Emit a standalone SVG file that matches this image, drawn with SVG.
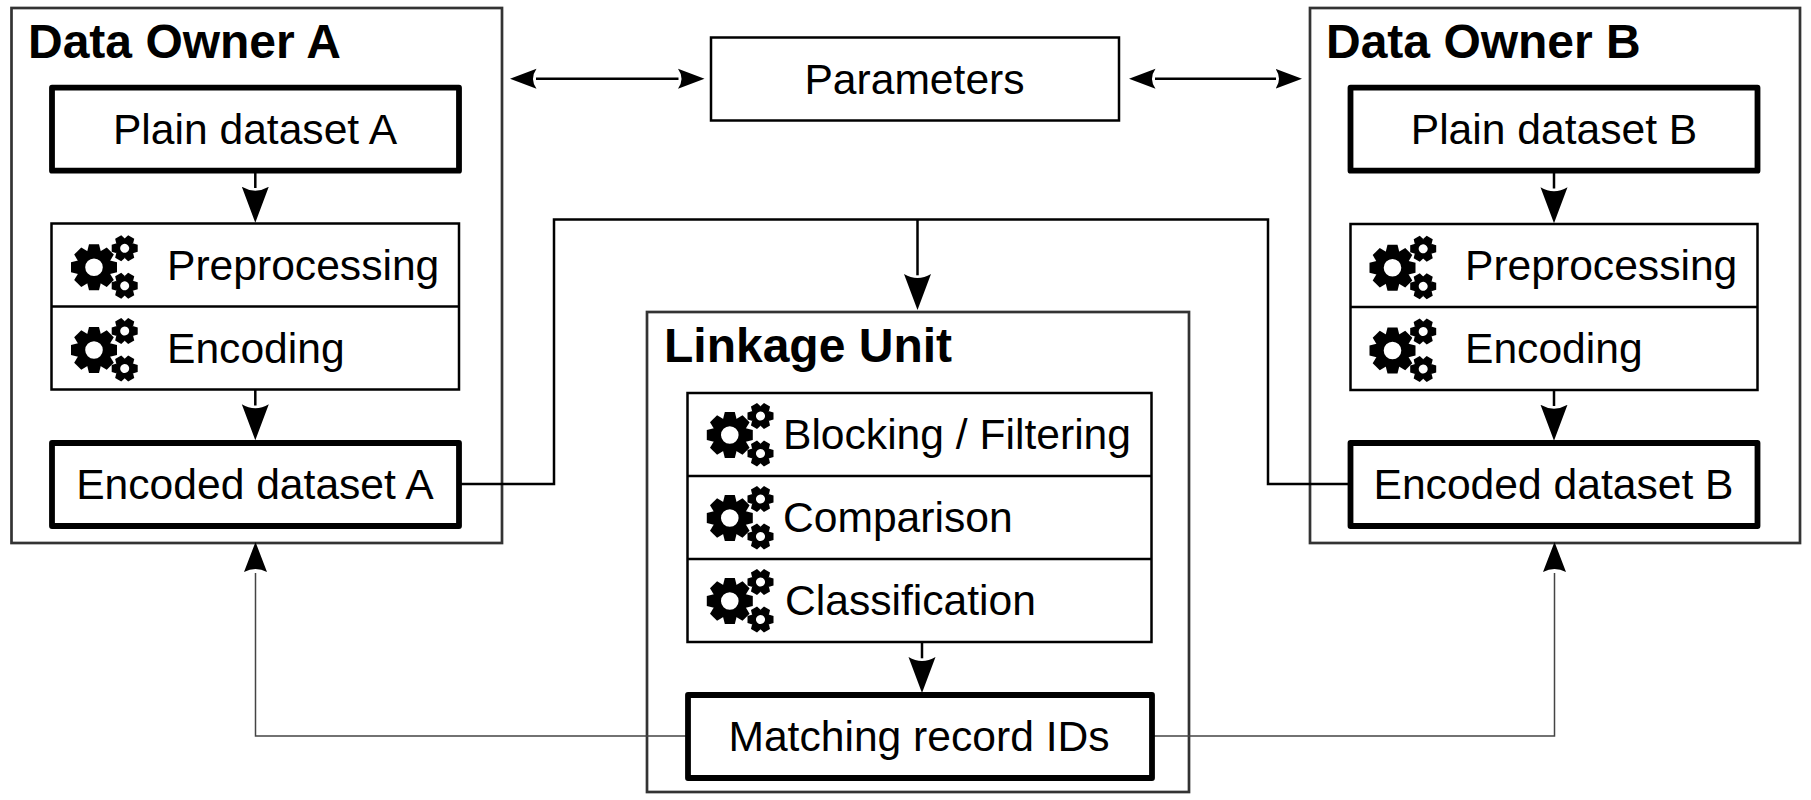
<svg xmlns="http://www.w3.org/2000/svg" width="1811" height="800" viewBox="0 0 1811 800">
<style>
text{font-family:"Liberation Sans",Arial,sans-serif;fill:#000}
.t{font-size:42.6px}
.m{text-anchor:middle}
.h{font-size:48px;font-weight:bold}
.c{fill:#fff;stroke:#333;stroke-width:2.7}
.b{fill:#fff;stroke:#000;stroke-width:5.800;stroke-linejoin:round}
.p{fill:#fff;stroke:#000;stroke-width:2.5}
.l{fill:none;stroke:#000;stroke-width:2.5}
.f{fill:none;stroke:#444;stroke-width:1.5}
</style>
<defs>
<marker id="big" markerUnits="userSpaceOnUse" markerWidth="40" markerHeight="32" refX="1.300" refY="16" orient="auto"><path d="M0,2.500 Q8,16 0,29.500 L36,16 Z" fill="#000"/></marker>
<marker id="mid" markerUnits="userSpaceOnUse" markerWidth="36" markerHeight="26" refX="1" refY="13" orient="auto"><path d="M2,1.500 Q8,13 2,24.500 L32,13 Z" fill="#000"/></marker>
<marker id="sm" markerUnits="userSpaceOnUse" markerWidth="30" markerHeight="24" refX="0.500" refY="12" orient="auto-start-reverse"><path d="M0,2 Q7,12 0,22 L26.500,12 Z" fill="#000"/></marker>
<path id="bt" d="M-7,-15 L-5,-23 L5,-23 L7,-15 Z"/>
<path id="st" d="M-5,-8 L-3.500,-13 L3.500,-13 L5,-8 Z"/>
<g id="sg" transform="rotate(30)">
<circle r="7" fill="none" stroke="#000" stroke-width="5"/>
<use href="#st"/><use href="#st" transform="rotate(60)"/><use href="#st" transform="rotate(120)"/><use href="#st" transform="rotate(180)"/><use href="#st" transform="rotate(240)"/><use href="#st" transform="rotate(300)"/>
</g>
<g id="gears">
<circle r="12.900" fill="none" stroke="#000" stroke-width="8.200"/>
<use href="#bt"/><use href="#bt" transform="rotate(45)"/><use href="#bt" transform="rotate(90)"/><use href="#bt" transform="rotate(135)"/><use href="#bt" transform="rotate(180)"/><use href="#bt" transform="rotate(225)"/><use href="#bt" transform="rotate(270)"/><use href="#bt" transform="rotate(315)"/>
<g transform="translate(30.700,-19)"><use href="#sg"/></g>
<g transform="translate(30.700,18.500)"><use href="#sg"/></g>
</g>
</defs>

<g id="owner-a">
<rect class="c" x="11.500" y="8" width="490.500" height="535"/>
<text class="h" x="28" y="58">Data Owner A</text>
</g>
<g id="owner-b">
<rect class="c" x="1310" y="8" width="490" height="535"/>
<text class="h" x="1326" y="58">Data Owner B</text>
</g>
<g id="linkage-unit">
<rect class="c" x="647" y="312" width="542" height="480"/>
<text class="h" x="664" y="362">Linkage Unit</text>
</g>

<g id="connectors">
<path class="l" d="M255.300,173V188" marker-end="url(#big)"/>
<path class="l" d="M255.300,389V405.500" marker-end="url(#big)"/>
<path class="l" d="M1554,173V188.500" marker-end="url(#big)"/>
<path class="l" d="M1554,389V406" marker-end="url(#big)"/>
<path class="l" d="M922,641V658.300" marker-end="url(#big)"/>
<path class="l" d="M461,484H554V219.500H1268V484H1349"/>
<path class="l" d="M917.500,219.500V275.300" marker-end="url(#big)"/>
<path class="l" d="M536,78.700H678.500" marker-start="url(#sm)" marker-end="url(#sm)"/>
<path class="l" d="M1155,78.700H1276" marker-start="url(#sm)" marker-end="url(#sm)"/>
<path class="f" d="M687,736H255.500V573" marker-end="url(#mid)"/>
<path class="f" d="M1153,736H1554.500V573" marker-end="url(#mid)"/>
</g>

<g id="parameters">
<rect class="p" x="711" y="37.500" width="408" height="83"/>
<text class="t m" x="914.500" y="94">Parameters</text>
</g>
<g id="plain-a">
<rect class="b" x="52" y="87.700" width="407" height="83"/>
<text class="t m" x="255" y="144">Plain dataset A</text>
</g>
<g id="process-a">
<rect class="p" x="51.500" y="223.500" width="407.500" height="166"/>
<path class="l" d="M51.500,306.500H459"/>
<use href="#gears" transform="translate(94,267.300)"/>
<use href="#gears" transform="translate(94,350)"/>
<text class="t" x="167" y="280">Preprocessing</text>
<text class="t" x="167" y="363">Encoding</text>
</g>
<g id="encoded-a">
<rect class="b" x="52" y="443" width="407" height="83"/>
<text class="t m" x="255" y="499">Encoded dataset A</text>
</g>
<g id="plain-b">
<rect class="b" x="1350.500" y="87.700" width="407" height="83"/>
<text class="t m" x="1554" y="144">Plain dataset B</text>
</g>
<g id="process-b">
<rect class="p" x="1350.500" y="224" width="407" height="166"/>
<path class="l" d="M1350.500,307H1757.500"/>
<use href="#gears" transform="translate(1392.500,267.800)"/>
<use href="#gears" transform="translate(1392.500,350.500)"/>
<text class="t" x="1465" y="280">Preprocessing</text>
<text class="t" x="1465" y="363">Encoding</text>
</g>
<g id="encoded-b">
<rect class="b" x="1350.500" y="443" width="407" height="83"/>
<text class="t m" x="1553.500" y="499">Encoded dataset B</text>
</g>
<g id="process-lu">
<rect class="p" x="687.500" y="393" width="464" height="249"/>
<path class="l" d="M687.500,476H1151.500M687.500,559H1151.500"/>
<use href="#gears" transform="translate(729.800,435)"/>
<use href="#gears" transform="translate(729.800,518)"/>
<use href="#gears" transform="translate(729.800,601)"/>
<text class="t" x="783" y="449">Blocking / Filtering</text>
<text class="t" x="783" y="532">Comparison</text>
<text class="t" x="785" y="615">Classification</text>
</g>
<g id="matching">
<rect class="b" x="688" y="695" width="464" height="83"/>
<text class="t m" x="919" y="751">Matching record IDs</text>
</g>
</svg>
